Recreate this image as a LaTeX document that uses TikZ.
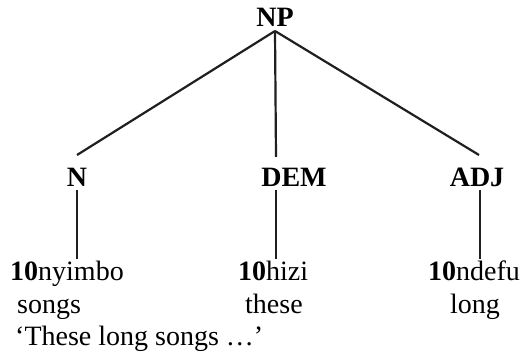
\documentclass[tikz,border=0pt]{standalone}
\usepackage{fontspec}
\setmainfont{Liberation Serif}
\begin{document}
\begin{tikzpicture}[x=1pt, y=-1pt,
  every node/.style={inner sep=0pt, font=\fontsize{28}{32}\selectfont},
  cat/.style={anchor=base, font=\fontsize{28}{32}\selectfont\bfseries},
  word/.style={anchor=base west},
  branch/.style={line width=2.2pt, color=black!88}]
\useasboundingbox (0,0) rectangle (525,363);

% phrase node and its daughters
\node[cat] (NP)  at (275,27)  {NP};
\node[cat] (N)   at (77,187)  {N};
\node[cat] (DEM) at (294,187) {DEM};
\node[cat] (ADJ) at (477,187) {ADJ};

% words with glosses
\node[word] (w1) at (10,281)  {\textbf{10}nyimbo};
\node[word] (g1) at (17,314)  {songs};
\node[word] (w2) at (238,281) {\textbf{10}hizi};
\node[word] (g2) at (245,314) {these};
\node[word] (w3) at (428,281) {\textbf{10}ndefu};
\node[word] (g3) at (450,314) {long};
\node[word] (tr) at (15,346)  {‘These long songs …’};

% branch end points
\coordinate (np-foot) at (275,31);
\coordinate (n-top)   at (77,155);
\coordinate (dem-top) at (276,157);
\coordinate (adj-top) at (479,155);
\coordinate (n-foot)   at (77,190);
\coordinate (dem-foot) at (276,190);
\coordinate (adj-foot) at (480,190);
\coordinate (w1-top) at (77,259);
\coordinate (w2-top) at (276,259);
\coordinate (w3-top) at (480,259);

\draw[branch] (np-foot) -- (n-top);
\draw[branch] (np-foot) -- (dem-top);
\draw[branch] (np-foot) -- (adj-top);
\draw[branch] (n-foot) -- (w1-top);
\draw[branch] (dem-foot) -- (w2-top);
\draw[branch] (adj-foot) -- (w3-top);
\end{tikzpicture}
\end{document}
